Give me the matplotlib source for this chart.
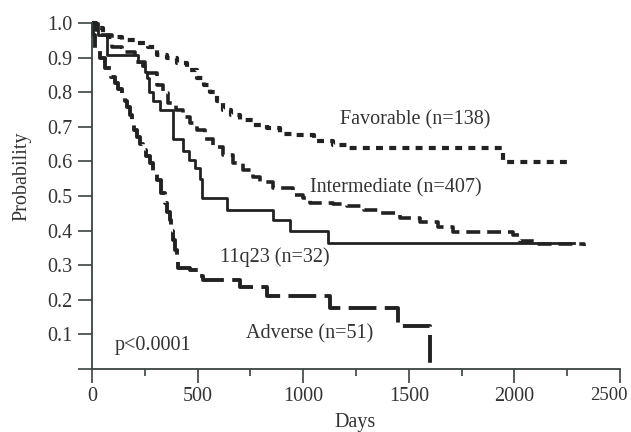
import matplotlib
matplotlib.use("Agg")
import matplotlib.pyplot as plt
from matplotlib.ticker import MultipleLocator

plt.rcParams['font.family'] = ['Liberation Serif', 'DejaVu Serif']
plt.rcParams['lines.scale_dashes'] = False

# Kaplan-Meier estimates (days, probability)
fav_days = [0, 20, 50, 76, 142, 204, 265, 308, 355, 403, 450, 498, 530, 559, 590, 621,
            660, 701, 760, 829, 891, 952, 1050, 1142, 1209, 1948, 2270]
fav_prob = [1.0, 0.985, 0.97, 0.96, 0.95, 0.942, 0.93, 0.907, 0.90, 0.885, 0.865, 0.84,
            0.82, 0.80, 0.775, 0.75, 0.735, 0.72, 0.705, 0.697, 0.68, 0.675, 0.66, 0.647,
            0.639, 0.598, 0.598]

int_days = [0, 20, 40, 95, 142, 204, 251, 308, 336, 360, 400, 431, 465, 498, 535, 573,
            620, 668, 715, 763, 796, 857, 952, 1000, 1033, 1142, 1209, 1290, 1365, 1460,
            1555, 1640, 1711, 1872, 1995, 2028, 2100, 2330]
int_prob = [1.0, 0.98, 0.965, 0.93, 0.916, 0.887, 0.855, 0.82, 0.798, 0.77, 0.75, 0.728,
            0.71, 0.69, 0.665, 0.642, 0.618, 0.595, 0.575, 0.555, 0.54, 0.523, 0.503,
            0.494, 0.48, 0.478, 0.47, 0.46, 0.45, 0.437, 0.425, 0.41, 0.397, 0.397,
            0.388, 0.37, 0.36, 0.355]

q23_days = [0, 30, 71, 218, 237, 251, 262, 270, 290, 322, 384, 430, 460, 490, 510, 521,
            639, 857, 938, 1117, 2280]
q23_prob = [1.0, 0.965, 0.907, 0.887, 0.876, 0.858, 0.84, 0.80, 0.775, 0.75, 0.665,
            0.63, 0.605, 0.58, 0.55, 0.494, 0.46, 0.43, 0.40, 0.364, 0.364]

adv_days = [0, 5, 14, 40, 62, 90, 109, 125, 142, 155, 166, 178, 190, 200, 213, 228, 242,
            258, 275, 290, 308, 325, 346, 355, 368, 376, 384, 395, 403, 408, 464, 500,
            526, 701, 829, 1128, 1450, 1602, 1602]
adv_prob = [1.0, 0.965, 0.92, 0.90, 0.87, 0.845, 0.827, 0.81, 0.798, 0.775, 0.757, 0.735,
            0.711, 0.69, 0.67, 0.65, 0.633, 0.615, 0.595, 0.57, 0.546, 0.51, 0.48, 0.455,
            0.43, 0.40, 0.373, 0.345, 0.315, 0.292, 0.286, 0.27, 0.257, 0.237, 0.21,
            0.176, 0.125, 0.125, 0.0]

x_ticks = [0, 500, 1000, 1500, 2000, 2500]
y_ticks = [0.0, 0.1, 0.2, 0.3, 0.4, 0.5, 0.6, 0.7, 0.8, 0.9, 1.0]

ink = '#222222'
txt = '#333333'

fig = plt.figure(figsize=(6.31, 4.32), dpi=100)
ax = fig.add_axes([92 / 631, 63 / 432, 528 / 631, 346 / 432])

ax.step(fav_days, fav_prob, where='post', color=ink, lw=3.0,
        linestyle=(0, (5, 4.5)), clip_on=False)
ax.step(int_days, int_prob, where='post', color=ink, lw=2.6,
        linestyle=(0, (10, 5)), clip_on=False)
ax.step(q23_days, q23_prob, where='post', color=ink, lw=2.0, clip_on=False)
ax.step(adv_days, adv_prob, where='post', color=ink, lw=2.8,
        linestyle=(0, (20, 6)), clip_on=False)

fs = 14.5
ax.text(1529, 0.72, 'Favorable (n=138)', ha='center', va='center', fontsize=fs, color=txt)
ax.text(1439, 0.523, 'Intermediate (n=407)', ha='center', va='center', fontsize=fs, color=txt)
ax.text(866, 0.324, '11q23 (n=32)', ha='center', va='center', fontsize=fs, color=txt)
ax.text(1032, 0.101, 'Adverse (n=51)', ha='center', va='center', fontsize=fs, color=txt)
ax.text(289, 0.069, 'p<0.0001', ha='center', va='center', fontsize=fs, color=txt)

ax.set_xlim(0, 2500)
ax.set_ylim(0, 1.0)
ax.set_xticks(x_ticks)
# the last label sits squeezed against the right edge in the original, drawn below
ax.set_xticklabels([str(v) for v in x_ticks[:-1]] + [''])
ax.xaxis.set_minor_locator(MultipleLocator(250))
ax.set_yticks(y_ticks)
ax.set_yticklabels([''] + ['%.1f' % v for v in y_ticks[1:]])
ax.annotate(str(x_ticks[-1]), xy=(x_ticks[-1], 0), xycoords='data',
            xytext=(-11, -27), textcoords='offset pixels',
            ha='center', va='center', fontsize=13.5, color=txt, annotation_clip=False)

for s in ['top', 'right']:
    ax.spines[s].set_visible(False)
for s in ['left', 'bottom']:
    ax.spines[s].set_color('#3a443f')
    ax.spines[s].set_linewidth(1.3)

ax.tick_params(axis='both', which='major', direction='out', length=10, width=1.2,
               color='#3a443f', labelsize=fs, labelcolor=txt)
ax.tick_params(axis='x', which='minor', direction='out', length=5, width=1.2, color='#3a443f')
ax.tick_params(axis='x', which='major', pad=3)
ax.tick_params(axis='y', which='major', pad=4)

ax.set_xlabel('Days', fontsize=fs, color=txt, va='center')
ax.set_ylabel('Probability', fontsize=fs, color=txt, va='center')
ax.xaxis.set_label_coords(0.498, -0.156)
ax.yaxis.set_label_coords(-0.133, 0.558)

fig.savefig('out.png', dpi=100)
